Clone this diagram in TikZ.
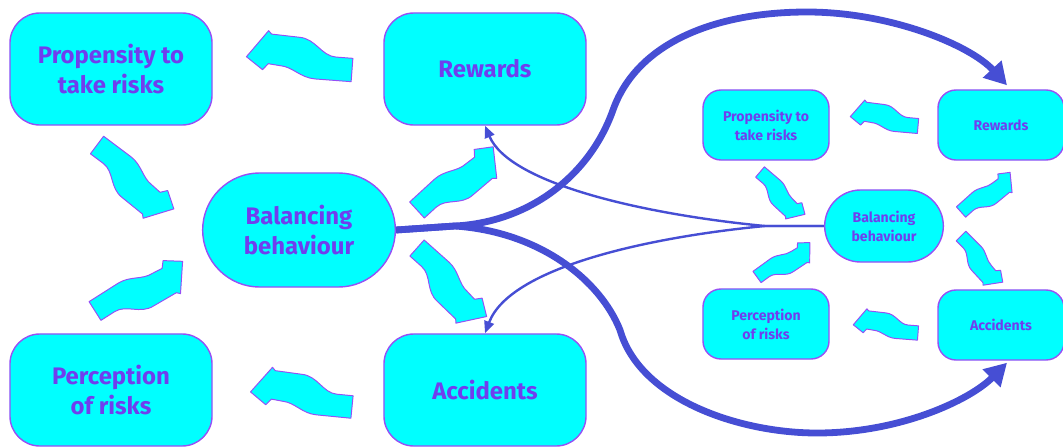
\documentclass[tikz,border=0pt]{standalone}
\usepackage{fontspec}
\setmainfont{Fira Sans}
\usetikzlibrary{positioning,calc,shapes.misc,arrows.meta}

\definecolor{boxfill}{RGB}{0,255,255}
\definecolor{boxline}{RGB}{150,80,245}
\definecolor{boxtext}{RGB}{112,62,238}
\definecolor{loopblue}{RGB}{70,78,212}

\tikzset{
  wavy/.pic={
    \path[draw=boxline, fill=boxfill, line width=0.7pt, line join=round]
      (0,-11) -- (16,-11) .. controls (30,-11) and (36,-27) .. (52,-27)
      -- (78,-28) -- (81,-31) -- (100,-5) -- (84,6) -- (79,0) -- (68,1)
      .. controls (56,1) and (48,11) .. (34,11) -- (0,11) -- cycle;
  }
}

% wavy block arrow from tail #2 to tip #3
\newcommand{\wavyarrow}[3][]{%
  \path let \p1=#2, \p2=#3,
    \n1={atan2(\y2-\y1,\x2-\x1)}, \n2={veclen(\x2-\x1,\y2-\y1)/71.13} in
    pic[rotate=\n1, scale=\n2, #1] at (\p1) {wavy};}

\begin{document}
\begin{tikzpicture}[x=0.025cm, y=0.025cm,
    bigbox/.style={rectangle, draw=boxline, fill=boxfill, line width=1pt, rounded corners=0.75cm,
      minimum width=5.05cm, minimum height=2.8cm, align=center, text=boxtext,
      font=\fontsize{17}{21}\selectfont\bfseries},
    bigpill/.style={rounded rectangle, draw=boxline, fill=boxfill, line width=1pt,
      minimum width=5.05cm, minimum height=2.85cm, align=center, text=boxtext,
      font=\fontsize{17}{21}\selectfont\bfseries},
    smallbox/.style={rectangle, draw=boxline, fill=boxfill, line width=1pt, rounded corners=0.45cm,
      minimum width=3.15cm, minimum height=1.75cm, align=center, text=boxtext,
      font=\fontsize{10}{13.5}\selectfont\bfseries},
    smallpill/.style={rounded rectangle, draw=boxline, fill=boxfill, line width=1pt,
      minimum width=3.2cm, minimum height=1.8cm, align=center, text=boxtext,
      font=\fontsize{10}{13.5}\selectfont\bfseries},
    bigloop/.style={draw=loopblue, line width=0.17cm, -{Triangle[length=0.55cm, width=0.6cm]}},
    thinlink/.style={draw=loopblue, line width=0.06cm, -{Triangle[length=0.3cm, width=0.25cm]}}
]
\useasboundingbox (0,0) rectangle (1063,-447);

% Main loop
\node[bigbox] (prop) at (111,-69) {Propensity to\\take risks};
\node[bigbox] (rew) at (485,-69) {Rewards};
\node[bigpill] (bal) at (299,-230) {Balancing\\behaviour};
\node[bigbox] (perc) at (111,-390) {Perception\\of risks};
\node[bigbox] (acc) at (485,-390) {Accidents};

% Small loop
\node[smallbox] (sprop) at (766,-125) {Propensity to\\take risks};
\node[smallbox] (srew) at (1001,-125) {Rewards};
\node[smallpill] (sbal) at (884,-226) {Balancing\\behaviour};
\node[smallbox] (sperc) at (766,-324) {Perception\\of risks};
\node[smallbox] (sacc) at (1001,-325) {Accidents};

% Thin links back to the main loop
\draw[thinlink] (sbal.west) -- (765,-226) .. controls (650,-215) and (510,-185) .. (rew.south);
\draw[thinlink] (sbal.west) -- (765,-226) .. controls (650,-237) and (510,-267) .. (acc.north);

% Thick links out to the small loop
\draw[bigloop] (bal.east) -- (455,-226) .. controls (530,-222) and (590,-175) .. (613,-110)
  .. controls (638,-40) and (720,-12) .. (807,-12)
  .. controls (890,-12) and (970,-45) .. ([xshift=0.15cm, yshift=0.1cm]srew.north);
\draw[bigloop] (bal.east) -- (455,-226) .. controls (540,-232) and (600,-280) .. (620,-330)
  .. controls (640,-400) and (740,-433) .. (817,-433)
  .. controls (900,-433) and (970,-400) .. ([xshift=0.15cm, yshift=-0.05cm]sacc.south);

% Wavy arrows, main loop
\wavyarrow{(352,-70)}{(246,-62)}
\wavyarrow{(97,-145)}{(177,-205)}
\wavyarrow{(95,-311)}{(180,-257)}
\wavyarrow{(352,-407)}{(250,-397)}
\wavyarrow{(417,-210)}{(490,-143)}
\wavyarrow{(417,-248)}{(490,-313)}

% Wavy arrows, small loop
\wavyarrow{(918,-126)}{(850,-120)}
\wavyarrow{(760,-172)}{(807,-212)}
\wavyarrow{(757,-277)}{(808,-240)}
\wavyarrow{(918,-333)}{(853,-328)}
\wavyarrow{(961,-212)}{(1008,-170)}
\wavyarrow{(961,-236)}{(1005,-280)}

\end{tikzpicture}
\end{document}
